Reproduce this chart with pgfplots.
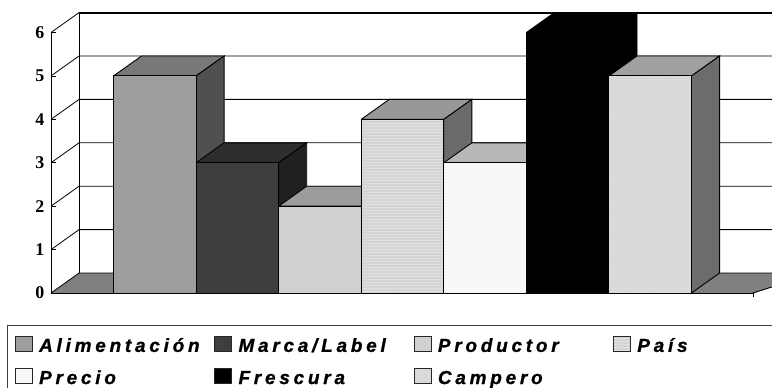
\documentclass[border=0pt]{standalone}
\usepackage{fontspec}
\setmainfont{Liberation Serif}
\newfontfamily\legendfont[LetterSpace=20,FakeBold=1.0,BoldFont={Liberation Sans Bold Italic},ItalicFont={Liberation Sans Bold Italic},UprightFont={Liberation Sans Bold Italic}]{Liberation Sans}
\usepackage{pgfplots}
\pgfplotsset{compat=1.18}
\usetikzlibrary{patterns}

\definecolor{aFront}{HTML}{9E9E9E}\definecolor{aTop}{HTML}{787878}\definecolor{aSide}{HTML}{505050}
\definecolor{mFront}{HTML}{3E3E3E}\definecolor{mTop}{HTML}{2E2E2E}\definecolor{mSide}{HTML}{202020}
\definecolor{prFront}{HTML}{D0D0D0}\definecolor{prTop}{HTML}{9C9C9C}\definecolor{prSide}{HTML}{686868}
\definecolor{paFront}{HTML}{D4D4D4}\definecolor{paTop}{HTML}{989898}\definecolor{paSide}{HTML}{6A6A6A}
\definecolor{ciFront}{HTML}{F8F8F8}\definecolor{ciTop}{HTML}{B8B8B8}\definecolor{ciSide}{HTML}{7C7C7C}
\definecolor{caFront}{HTML}{D8D8D8}\definecolor{caTop}{HTML}{A0A0A0}\definecolor{caSide}{HTML}{6C6C6C}
\definecolor{floorgray}{HTML}{808080}

\pgfplotsset{
  face/.style={draw=black, line width=0.9bp, line join=miter, mark=none, forget plot},
  swatch/.style={
    legend image code/.code={\path[draw=black!85, line width=0.8bp, ##1] (0bp,-4bp) rectangle (17bp,11bp);}},
  front/.style={ybar, bar width=1, bar shift=0pt, draw=black, line width=0.9bp, mark=none, swatch, fill=#1},
}

\begin{document}
\begin{tikzpicture}[x=1bp,y=1bp]
\useasboundingbox (0,0) rectangle (772,387);
% legend frame runs off the page to the right and below
\draw[line width=1bp, black!75] (7,-10) rectangle (800,61.3);
\begin{axis}[
  at={(51bp,94bp)}, anchor=south west,
  scale only axis, width=721bp, height=280bp,
  xmin=-1.257, xmax=7.475, ymin=0, ymax=6.45,
  clip=false,
  axis x line=none,
  axis y line*=left,
  y axis line style={draw=none},
  ytick={0,1,2,3,4,5,6},
  tick style={black, line width=0.8bp},
  major tick length=4.5bp,
  /pgf/number format/assume math mode=true,
  yticklabel style={font=\fontsize{18}{18}\selectfont\bfseries, inner sep=0pt, xshift=-6.5bp},
  legend columns=4,
  legend cell align=left,
  legend style={
    draw=none, fill=none,
    at={(axis description cs:-0.0503,-0.1519)}, anchor=north west,
    font=\fontsize{19}{19}\selectfont\legendfont,
    inner sep=0pt,
    nodes={inner sep=0pt, text height=13bp, text depth=3.5bp},
    /tikz/every odd column/.style={column sep=6.4bp},
    /tikz/every even column/.style={text width=175.2bp, align=left},
    row sep=12.5bp,
  },
]
% back wall, grid and floor
\addplot[face, draw=none, fill=floorgray] coordinates {(-1.257,0) (-0.917,0.46) (8,0.46) (7.245,0) (-1.257,0)};
\addplot[face, line width=0.8bp] coordinates {(-1.257,0) (-0.917,0.46) (8,0.46)};
\addplot[face, line width=0.8bp] coordinates {(-1.257,1) (-0.917,1.46) (8,1.46)};
\addplot[face, line width=0.8bp] coordinates {(-1.257,2) (-0.917,2.46) (8,2.46)};
\addplot[face, line width=0.8bp] coordinates {(-1.257,3) (-0.917,3.46) (8,3.46)};
\addplot[face, line width=0.8bp] coordinates {(-1.257,4) (-0.917,4.46) (8,4.46)};
\addplot[face, line width=0.8bp] coordinates {(-1.257,5) (-0.917,5.46) (8,5.46)};
\addplot[face, line width=0.8bp] coordinates {(-1.257,6) (-0.917,6.46)};
\addplot[face, line width=2bp] coordinates {(-0.917,6.46) (8,6.46)};
\addplot[face] coordinates {(-0.917,0.46) (-0.917,6.46)};
\addplot[face] coordinates {(-1.257,0) (-1.257,6)};
\addplot[face] coordinates {(7.245,0) (8,0.46)};

% Alimentación
\addplot[face, fill=aTop] coordinates {(-0.5,5) (-0.16,5.46) (0.84,5.46) (0.5,5) (-0.5,5)};
\addplot[face, fill=aSide] coordinates {(0.5,0) (0.84,0.46) (0.84,5.46) (0.5,5) (0.5,0)};
\addplot[front=aFront] coordinates {(0,5)};
\addlegendentry{Alimentación}
% Marca/Label
\addplot[face, fill=mTop] coordinates {(0.5,3) (0.84,3.46) (1.84,3.46) (1.5,3) (0.5,3)};
\addplot[face, fill=mSide] coordinates {(1.5,0) (1.84,0.46) (1.84,3.46) (1.5,3) (1.5,0)};
\addplot[front=mFront] coordinates {(1,3)};
\addlegendentry{Marca/Label}
% Productor
\addplot[face, fill=prTop] coordinates {(1.5,2) (1.84,2.46) (2.84,2.46) (2.5,2) (1.5,2)};
\addplot[face, fill=prSide] coordinates {(2.5,0) (2.84,0.46) (2.84,2.46) (2.5,2) (2.5,0)};
\addplot[front=prFront] coordinates {(2,2)};
\addlegendentry{Productor}
% País
\addplot[face, fill=paTop] coordinates {(2.5,4) (2.84,4.46) (3.84,4.46) (3.5,4) (2.5,4)};
\addplot[face, fill=paSide] coordinates {(3.5,0) (3.84,0.46) (3.84,4.46) (3.5,4) (3.5,0)};
\addplot[front=paFront, postaction={pattern=horizontal lines, pattern color=black!12}] coordinates {(3,4)};
\addlegendentry{País}
% Precio
\addplot[face, fill=ciTop] coordinates {(3.5,3) (3.84,3.46) (4.84,3.46) (4.5,3) (3.5,3)};
\addplot[face, fill=ciSide] coordinates {(4.5,0) (4.84,0.46) (4.84,3.46) (4.5,3) (4.5,0)};
\addplot[front=ciFront] coordinates {(4,3)};
\addlegendentry{Precio}
% Frescura
\addplot[face, fill=black] coordinates {(4.5,6) (4.84,6.46) (5.84,6.46) (5.5,6) (4.5,6)};
\addplot[face, fill=black] coordinates {(5.5,0) (5.84,0.46) (5.84,6.46) (5.5,6) (5.5,0)};
\addplot[front=black] coordinates {(5,6)};
\addlegendentry{Frescura}
% Campero
\addplot[face, fill=caTop] coordinates {(5.5,5) (5.84,5.46) (6.84,5.46) (6.5,5) (5.5,5)};
\addplot[face, fill=caSide] coordinates {(6.5,0) (6.84,0.46) (6.84,5.46) (6.5,5) (6.5,0)};
\addplot[front=caFront, postaction={pattern=crosshatch dots, pattern color=black!10}] coordinates {(6,5)};
\addlegendentry{Campero}
% floor edge drawn last, with its end tick
\addplot[face] coordinates {(-1.257,0) (7.245,0) (7.245,-0.09)};
\end{axis}
\end{tikzpicture}
\end{document}
